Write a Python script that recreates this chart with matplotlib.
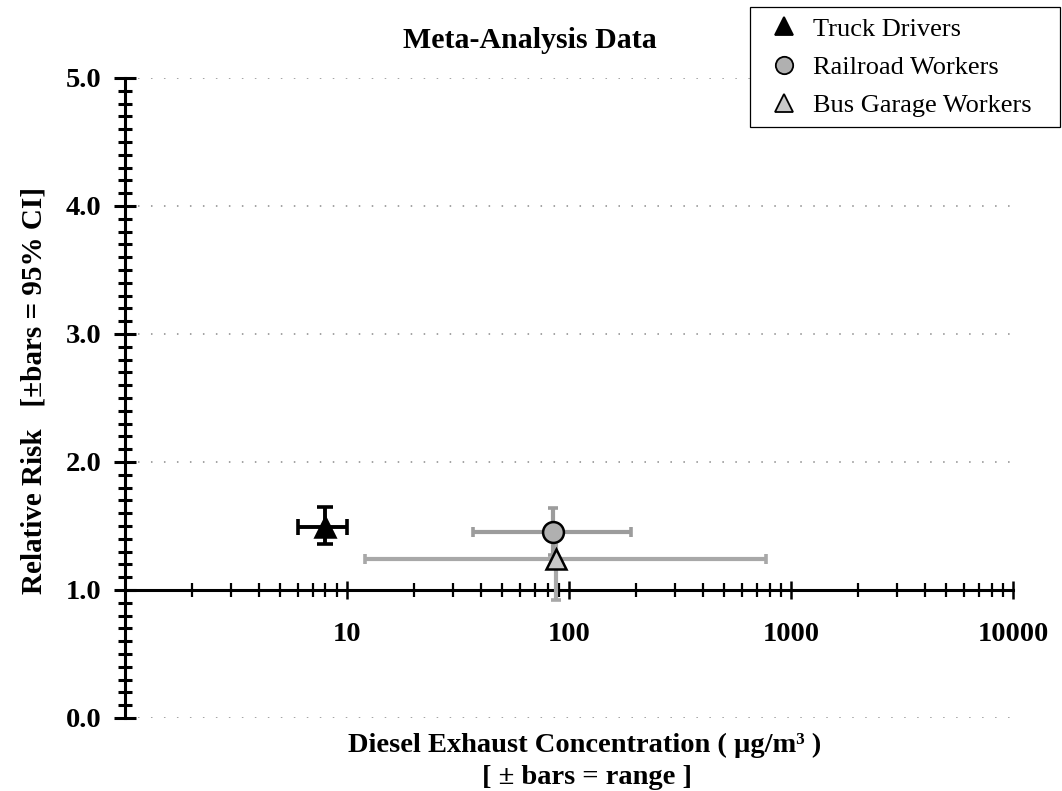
import matplotlib
matplotlib.use('Agg')
import matplotlib.pyplot as plt
from matplotlib.ticker import MultipleLocator, LogLocator, NullFormatter
from matplotlib.lines import Line2D

# ---- data ----
groups = ['Truck Drivers', 'Railroad Workers', 'Bus Garage Workers']
conc = [8, 85, 87]            # ug/m3
conc_low = [6, 37, 12]
conc_high = [10, 190, 770]
rr = [1.49, 1.45, 1.24]       # relative risk
rr_low = [1.36, 1.27, 0.92]
rr_high = [1.65, 1.64, 1.45]
y_ticks = [0.0, 1.0, 2.0, 3.0, 4.0, 5.0]
x_ticks = [10, 100, 1000, 10000]
x_tick_labels = ['10', '100', '1000', '10000']

# ---- styles ----
markers = ['^', 'o', '^']
face = ['black', '#b0b0b0', '#c8c8c8']
ecol = ['black', '#9c9c9c', '#a8a8a8']
elw = [2.8, 3.0, 3.0]
caps = [5.5, 3.8, 3.8]

plt.rcParams['font.family'] = ['Liberation Serif', 'DejaVu Serif']

fig = plt.figure(figsize=(10.62, 7.91), dpi=100)
ax = fig.add_axes([0.1177, 0.0923, 0.8362, 0.8091])
ax.set_xscale('log')
ax.set_xlim(1, 10000)
ax.set_ylim(0, 5)

order = [0, 2, 1]
zs = {0: 5, 2: 4, 1: 6}
for i in order:
    ax.errorbar([conc[i]], [rr[i]],
                xerr=[[conc[i] - conc_low[i]], [conc_high[i] - conc[i]]],
                yerr=[[rr[i] - rr_low[i]], [rr_high[i] - rr[i]]],
                fmt='none', ecolor=ecol[i], elinewidth=elw[i],
                capsize=caps[i], capthick=2.6, zorder=zs[i])
for i in [0, 1, 2]:
    ax.plot([conc[i]], [rr[i]], linestyle='none', marker=markers[i],
            markersize=15, markerfacecolor=face[i], markeredgecolor='black',
            markeredgewidth=1.8, zorder=10)

# ---- axes styling ----
for s in ['top', 'right']:
    ax.spines[s].set_visible(False)
ax.spines['bottom'].set_position(('data', 1.0))
ax.spines['bottom'].set_linewidth(2.2)
ax.spines['left'].set_linewidth(2.2)
ax.spines['bottom'].set_zorder(3)

ax.set_yticks(y_ticks, labels=[f'{v:.1f}' for v in y_ticks],
              fontweight='bold', fontsize=20.5)
ax.yaxis.set_minor_locator(MultipleLocator(0.1))
ax.set_xticks(x_ticks, labels=x_tick_labels, fontweight='bold', fontsize=20.5)
ax.xaxis.set_minor_locator(LogLocator(base=10, subs=range(2, 10)))
ax.xaxis.set_minor_formatter(NullFormatter())

ax.tick_params(axis='y', which='major', direction='inout', length=15.5,
               width=2.2, pad=9)
ax.tick_params(axis='y', which='minor', direction='inout', length=10,
               width=2.2)
ax.tick_params(axis='x', which='major', direction='inout', length=13.5,
               width=1.8, pad=16)
ax.tick_params(axis='x', which='minor', direction='inout', length=10,
               width=1.6)

ax.yaxis.grid(True, which='major', color='#8a8a8a',
              linestyle=(0, (1, 7.5)), linewidth=1.1)
ax.xaxis.grid(False)
ax.set_axisbelow(True)

# ---- texts ----
fig.text(530 / 1062, 1 - 48 / 791, 'Meta-Analysis Data', ha='center',
         va='baseline', fontsize=21.5, fontweight='bold')
fig.text(34 / 1062, 1 - 391 / 791, 'Relative Risk   [±bars = 95% CI]',
         rotation=90, ha='center', va='center', fontsize=21,
         fontweight='bold')
fig.text(585 / 1062, 1 - 745 / 791, 'Diesel Exhaust Concentration ( µg/m³ )',
         ha='center', va='center', fontsize=20.5, fontweight='bold')
fig.text(587 / 1062, 1 - 777 / 791, '[ ± bars = range ]',
         ha='center', va='center', fontsize=20.5, fontweight='bold')

# ---- legend ----
handles = [Line2D([], [], linestyle='none', marker=markers[i], markersize=12.5,
                  markerfacecolor=face[i], markeredgecolor='black',
                  markeredgewidth=1.3) for i in range(3)]
leg = fig.legend(handles, groups, loc='upper left',
                 bbox_to_anchor=(750 / 1062, 1 - 125 / 791, 310 / 1062, 118 / 791),
                 mode='expand', frameon=True, fancybox=False,
                 edgecolor='black', framealpha=1,
                 prop={'family': 'Liberation Serif', 'size': 19},
                 handlelength=1.8, handletextpad=0.2, borderpad=0.38,
                 labelspacing=0.56, borderaxespad=0)
leg.get_frame().set_linewidth(0.9)

fig.savefig('out.png', dpi=100)
